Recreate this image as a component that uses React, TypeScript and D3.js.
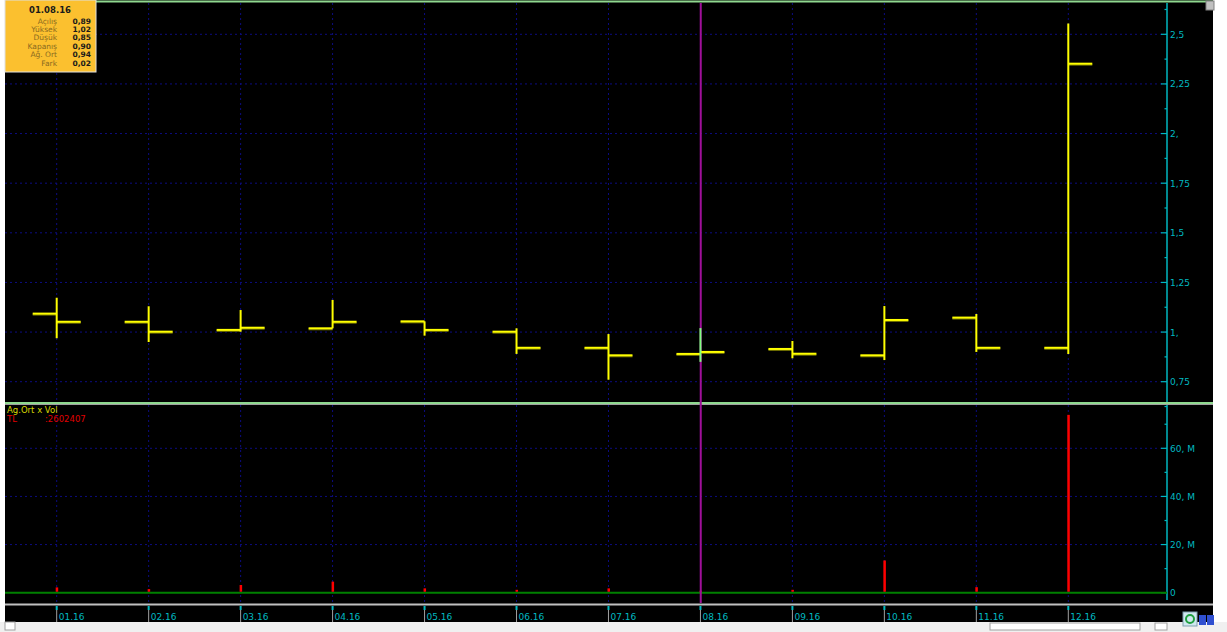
import React from "react";
import * as d3 from "d3";

const months = ["01.16","02.16","03.16","04.16","05.16","06.16","07.16","08.16","09.16","10.16","11.16","12.16"];
const opens  = [1.093,1.052,1.011,1.019,1.054,1.002,0.921,0.89,0.915,0.883,1.073,0.921];
const highs  = [1.173,1.130,1.111,1.162,1.054,1.019,0.990,1.02,0.955,1.131,1.091,2.554];
const lows   = [0.969,0.950,1.002,1.019,0.982,0.890,0.760,0.85,0.868,0.859,0.900,0.890];
const closes = [1.052,1.002,1.022,1.052,1.011,0.921,0.883,0.90,0.891,1.061,0.921,2.352];
const volumesM = [2.2,1.5,3.2,4.6,1.8,1.2,1.8,0.8,1.2,13.4,2.3,73.9];
const priceTicks = [0.75,1,1.25,1.5,1.75,2,2.25,2.5];
const priceTickLabels = ["0,75","1,","1,25","1,5","1,75","2,","2,25","2,5"];
const priceMinorTicks = [0.625,0.875,1.125,1.375,1.625,1.875,2.125,2.375,2.625];
const volTicks = [0,20,40,60];
const volTickLabels = ["0","20, M","40, M","60, M"];
const volMinorTicks = [10,30,50,70];
const tipTitle = "01.08.16";
const tipLabels = ["Açılış","Yüksek","Düşük","Kapanış","Ağ. Ort","Fark"];
const tipValues = ["0,89","1,02","0,85","0,90","0,94","0,02"];
const selectedIndex = 7;
const legendTitle = "Ag.Ort x Vol";
const legendUnit = "TL";
const legendValue = ":2602407";

const W = 1227, H = 632;
const LEFT = 5, RIGHT = 1213, AXIS_X = 1167;
const TOP_Y0 = 3, TOP_Y1 = 402;
const BOT_Y0 = 405, BOT_Y1 = 603;

export default function App() {
  const x = d3.scaleLinear().domain([0, months.length - 1]).range([56.7, 1068.3]);
  const yP = d3.scaleLinear().domain([0.75, 2.5]).range([381.7, 34.3]);
  const yV = d3.scaleLinear().domain([0, 60]).range([592.7, 448.3]);
  const font = "'DejaVu Sans', Verdana, sans-serif";
  const cyan = "#00b8c0";
  const grid = "#0c0c80";
  const tick = 24;

  return (
    <div style={{ position: "fixed", left: 0, top: 0, width: W, height: H }}>
      <svg width={W} height={H} style={{ display: "block" }} fontFamily={font}>
        <rect x={0} y={0} width={W} height={H} fill="#ffffff" />
        <rect x={LEFT} y={0} width={RIGHT - LEFT} height={622} fill="#000000" />
        <line x1={LEFT} x2={RIGHT} y1={1.5} y2={1.5} stroke="#8fd88f" strokeWidth={2} />
        <line x1={LEFT} x2={RIGHT} y1={403} y2={403} stroke="#8fd88f" strokeWidth={2} />
        <line x1={LEFT} x2={RIGHT} y1={404.5} y2={404.5} stroke="#a0a0a0" strokeWidth={1} />
        <line x1={LEFT} x2={RIGHT} y1={604.5} y2={604.5} stroke="#c0c0c0" strokeWidth={2} />

        {months.map((m, i) => (
          <g key={"vg" + i}>
            <line x1={x(i)} x2={x(i)} y1={TOP_Y0} y2={TOP_Y1} stroke={grid} strokeDasharray="2,3" />
            <line x1={x(i)} x2={x(i)} y1={BOT_Y0} y2={BOT_Y1} stroke={grid} strokeDasharray="2,3" />
          </g>
        ))}
        {priceTicks.map((t) => (
          <line key={"hp" + t} x1={LEFT} x2={AXIS_X} y1={yP(t)} y2={yP(t)} stroke={grid} strokeDasharray="2,3" />
        ))}
        {volTicks.filter((t) => t > 0).map((t) => (
          <line key={"hv" + t} x1={LEFT} x2={AXIS_X} y1={yV(t)} y2={yV(t)} stroke={grid} strokeDasharray="2,3" />
        ))}

        <line x1={AXIS_X} x2={AXIS_X} y1={TOP_Y0} y2={TOP_Y1} stroke={cyan} strokeWidth={1.5} />
        {priceTicks.map((t, i) => (
          <g key={"pt" + t}>
            <line x1={AXIS_X - 6} x2={AXIS_X} y1={yP(t)} y2={yP(t)} stroke={cyan} strokeWidth={1.2} />
            <text x={AXIS_X + 3} y={yP(t) + 3.5} fontSize={9} fill={cyan}>{priceTickLabels[i]}</text>
          </g>
        ))}
        {priceMinorTicks.map((t) => (
          <line key={"pm" + t} x1={AXIS_X - 2.5} x2={AXIS_X} y1={yP(t)} y2={yP(t)} stroke={cyan} strokeWidth={1.2} />
        ))}

        <line x1={AXIS_X} x2={AXIS_X} y1={BOT_Y0} y2={600} stroke={cyan} strokeWidth={1.5} />
        {volTicks.map((t, i) => (
          <g key={"vt" + t}>
            <line x1={AXIS_X - 6} x2={AXIS_X} y1={yV(t)} y2={yV(t)} stroke={cyan} strokeWidth={1.2} />
            <text x={AXIS_X + 3} y={yV(t) + 3.5} fontSize={9} fill={cyan}>{volTickLabels[i]}</text>
          </g>
        ))}
        {volMinorTicks.map((t) => (
          <line key={"vm" + t} x1={AXIS_X - 2.5} x2={AXIS_X} y1={yV(t)} y2={yV(t)} stroke={cyan} strokeWidth={1.2} />
        ))}

        <line x1={LEFT} x2={AXIS_X} y1={yV(0)} y2={yV(0)} stroke="#008000" strokeWidth={2} />

        {volumesM.map((v, i) => (
          <rect key={"vb" + i} x={x(i) - 1} y={yV(v)} width={2.5} height={yV(0) - yV(v) - 1} fill="#ff0000" />
        ))}

        <line x1={x(selectedIndex) + 0.3} x2={x(selectedIndex) + 0.3} y1={TOP_Y0} y2={BOT_Y1} stroke="#a0109a" strokeWidth={2} />

        {months.map((m, i) => {
          const xi = x(i);
          const vcol = i === selectedIndex ? "#80ff80" : "#ffff00";
          return (
            <g key={"ohlc" + i}>
              <line x1={xi - tick} x2={xi} y1={yP(opens[i]) + 1} y2={yP(opens[i]) + 1} stroke="#707000" strokeWidth={2} />
              <line x1={xi} x2={xi + tick} y1={yP(closes[i]) + 1} y2={yP(closes[i]) + 1} stroke="#707000" strokeWidth={2} />
              <line x1={xi - tick} x2={xi} y1={yP(opens[i])} y2={yP(opens[i])} stroke="#ffff00" strokeWidth={2} />
              <line x1={xi} x2={xi + tick} y1={yP(closes[i])} y2={yP(closes[i])} stroke="#ffff00" strokeWidth={2} />
              <line x1={xi} x2={xi} y1={yP(highs[i])} y2={yP(lows[i])} stroke={vcol} strokeWidth={2} />
            </g>
          );
        })}

        {months.map((m, i) => (
          <g key={"xa" + i}>
            <line x1={x(i)} x2={x(i)} y1={606} y2={610} stroke={cyan} strokeWidth={2} />
            <line x1={x(i)} x2={x(i)} y1={610} y2={622} stroke="#a0a0a0" strokeWidth={1} />
            <text x={x(i) + 2} y={619.5} fontSize={9} fill={cyan}>{m}</text>
          </g>
        ))}

        <text x={7} y={413} fontSize={8.5} fill="#d8d800">{legendTitle}</text>
        <text x={7} y={422} fontSize={8.5} fill="#e00000">{legendUnit}</text>
        <text x={45} y={422} fontSize={8.5} fill="#e00000">{legendValue}</text>

        <rect x={5} y={0} width={91} height={72} fill="#fbc02f" stroke="#e0e0e0" strokeWidth={1} />
        <text x={50} y={12.5} fontSize={8.5} fontWeight="bold" textAnchor="middle" fill="#1a1a1a">{tipTitle}</text>
        {tipLabels.map((l, i) => (
          <g key={"tip" + i}>
            <text x={57} y={23.5 + i * 8.4} fontSize={7.5} textAnchor="end" fill="#8a6a20">{l}</text>
            <text x={91} y={23.5 + i * 8.4} fontSize={7.5} fontWeight="bold" textAnchor="end" fill="#1a1a1a">{tipValues[i]}</text>
          </g>
        ))}

        <rect x={1206} y={1} width={8} height={9} fill="#c0c0c0" stroke="#808080" />

        <rect x={0} y={622} width={W} height={10} fill="#f0f0f0" />
        <rect x={5} y={622} width={10} height={8} fill="#ffffff" stroke="#a0a0a0" />
        <rect x={990} y={623} width={150} height={7} fill="#ffffff" stroke="#a0a0a0" />
        <rect x={1155} y={623} width={12} height={7} fill="#ffffff" stroke="#a0a0a0" />
        <rect x={1183} y={612} width={14} height={14} fill="#d0e8f0" stroke="#80a0b0" />
        <circle cx={1190} cy={619} r={4} fill="none" stroke="#20a040" strokeWidth={2} />
        <rect x={1199} y={615} width={7} height={10} fill="#3050d0" />
        <rect x={1207} y={615} width={7} height={10} fill="#3050d0" />
      </svg>
    </div>
  );
}
